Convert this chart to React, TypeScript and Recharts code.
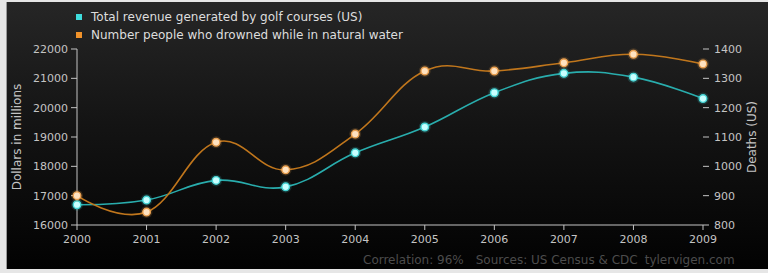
import React from 'react';
import { LineChart, Line, XAxis, YAxis } from 'recharts';

const years = ['2000', '2001', '2002', '2003', '2004', '2005', '2006', '2007', '2008', '2009'];
const golfRevenue = [16690, 16850, 17520, 17300, 18460, 19340, 20510, 21170, 21040, 20310];
const drownings = [900, 844, 1082, 988, 1110, 1325, 1325, 1353, 1382, 1349];
const leftTicks = [16000, 17000, 18000, 19000, 20000, 21000, 22000];
const rightTicks = [800, 900, 1000, 1100, 1200, 1300, 1400];
const seriesNames = [
  'Total revenue generated by golf courses (US)',
  'Number people who drowned while in natural water',
];
const footerParts = ['Correlation: 96%', 'Sources: US Census & CDC', 'tylervigen.com'];

const data = years.map((year, i) => ({ year, golf: golfRevenue[i], drowned: drownings[i] }));

// Highcharts-style spline curve factory
function splineCurve(context: any) {
  let pts: [number, number][] = [];
  return {
    areaStart() {},
    areaEnd() {},
    lineStart() {
      pts = [];
    },
    point(x: number, y: number) {
      pts.push([+x, +y]);
    },
    lineEnd() {
      const n = pts.length;
      if (!n) return;
      const sm = 1.5;
      const den = sm + 1;
      const lc: any[] = [];
      const rc: any[] = [];
      for (let i = 0; i < n; i++) {
        if (i > 0 && i < n - 1) {
          const [px, py] = pts[i];
          const [lx, ly] = pts[i - 1];
          const [nx, ny] = pts[i + 1];
          const lcx = (sm * px + lx) / den;
          let lcy = (sm * py + ly) / den;
          const rcx = (sm * px + nx) / den;
          let rcy = (sm * py + ny) / den;
          let corr = 0;
          if (rcx !== lcx) corr = ((rcy - lcy) * (rcx - px)) / (rcx - lcx) + py - rcy;
          lcy += corr;
          rcy += corr;
          lc[i] = [lcx, lcy];
          rc[i] = [rcx, rcy];
        } else {
          lc[i] = null;
          rc[i] = null;
        }
      }
      context.moveTo(pts[0][0], pts[0][1]);
      for (let i = 1; i < n; i++) {
        const a = rc[i - 1] || pts[i - 1];
        const b = lc[i] || pts[i];
        context.bezierCurveTo(a[0], a[1], b[0], b[1], pts[i][0], pts[i][1]);
      }
    },
  };
}

const makeDot = (fill: string, stroke: string) => (props: any) => {
  const { cx, cy, index } = props;
  return (
    <g key={`d-${index}`}>
      <circle cx={cx} cy={cy} r={6} fill={stroke} opacity={0.18} />
      <circle cx={cx} cy={cy} r={3.8} fill={fill} stroke={stroke} strokeWidth={1.4} />
    </g>
  );
};

const tickStyle = { fill: '#c4c4c4', fontSize: 11 };

export default function App() {
  return (
    <div
      style={{
        position: 'absolute',
        left: 0,
        top: 0,
        width: 768,
        height: 273,
        background: '#e6e6e6',
        fontFamily: '"DejaVu Sans", sans-serif',
        overflow: 'hidden',
      }}
    >
      <div
        style={{
          position: 'absolute',
          left: 6,
          top: 2,
          width: 762,
          height: 267,
          background: 'linear-gradient(to bottom, #262626 0%, #141414 45%, #020202 100%)',
          borderLeft: '1px solid #999',
        }}
      />
      <div style={{ position: 'absolute', left: 0, top: 0 }}>
        <LineChart width={768} height={273} data={data} margin={{ top: 49, right: 0, bottom: 18, left: 0 }}>
          <XAxis
            dataKey="year"
            height={30}
            interval={0}
            tick={tickStyle}
            tickSize={5}
            tickMargin={5}
            axisLine={{ stroke: '#c4c4c4' }}
            tickLine={{ stroke: '#c4c4c4' }}
          />
          <YAxis
            yAxisId="left"
            width={77}
            domain={[16000, 22000]}
            ticks={leftTicks}
            tick={tickStyle}
            tickSize={6}
            tickMargin={3}
            axisLine={{ stroke: '#c4c4c4' }}
            tickLine={{ stroke: '#c4c4c4' }}
            label={{ value: 'Dollars in millions', angle: -90, position: 'center', dx: -22, fill: '#c4c4c4', fontSize: 12 }}
          />
          <YAxis
            yAxisId="right"
            orientation="right"
            width={65}
            domain={[800, 1400]}
            ticks={rightTicks}
            tick={tickStyle}
            tickSize={6}
            tickMargin={5}
            axisLine={false}
            tickLine={{ stroke: '#c4c4c4' }}
            label={{ value: 'Deaths (US)', angle: -90, position: 'center', dx: 16, fill: '#c4c4c4', fontSize: 12 }}
          />
          <Line
            yAxisId="left"
            dataKey="golf"
            type={splineCurve as any}
            stroke="#29adad"
            strokeWidth={1.6}
            dot={makeDot('#c8ffff', '#45d4d4')}
            activeDot={false}
            isAnimationActive={false}
          />
          <Line
            yAxisId="right"
            dataKey="drowned"
            type={splineCurve as any}
            stroke="#c0761c"
            strokeWidth={1.6}
            dot={makeDot('#ffe2c0', '#eaa050')}
            activeDot={false}
            isAnimationActive={false}
          />
        </LineChart>
      </div>
      <div style={{ position: 'absolute', left: 74, top: 8, fontSize: 12, color: '#dddddd', lineHeight: '18px' }}>
        {seriesNames.map((name, i) => (
          <div key={name} style={{ display: 'flex', alignItems: 'center', whiteSpace: 'nowrap' }}>
            <span
              style={{
                display: 'inline-block',
                width: 6,
                height: 6,
                background: i === 0 ? '#3fdcdc' : '#f0922a',
                marginLeft: 2,
                marginRight: 9,
              }}
            />
            {name}
          </div>
        ))}
      </div>
      <div
        style={{
          position: 'absolute',
          left: 363,
          top: 253,
          fontSize: 12,
          color: '#4c4c4c',
          whiteSpace: 'nowrap',
        }}
      >
        <span>{footerParts[0]}</span>
        <span style={{ marginLeft: 12 }}>{footerParts[1]}</span>
        <span style={{ marginLeft: 7 }}>{footerParts[2]}</span>
      </div>
    </div>
  );
}
